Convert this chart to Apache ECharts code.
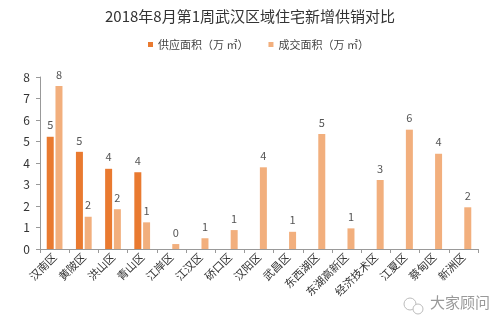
<!DOCTYPE html>
<html><head><meta charset="utf-8">
<script src="https://cdn.jsdelivr.net/npm/echarts@6/dist/echarts.min.js"></script>
<style>html,body{margin:0;padding:0;background:#fff}#c{width:500px;height:324px}</style>
</head><body><div id="c"></div>
<script>
const categories = ['汉南区','黄陂区','洪山区','青山区','江岸区','江汉区','硚口区','汉阳区','武昌区','东西湖区','东湖高新区','经济技术区','江夏区','蔡甸区','新洲区'];
const supply = [5.22, 4.52, 3.73, 3.57, null, null, null, null, null, null, null, null, null, null, null];
const deal = [7.58, 1.5, 1.85, 1.24, 0.23, 0.5, 0.88, 3.8, 0.8, 5.35, 0.96, 3.21, 5.55, 4.43, 1.94];
const yTicks = [0,1,2,3,4,5,6,7,8];
const seriesNames = ['供应面积（万 ㎡）','成交面积（万 ㎡）'];
const titleText = '2018年8月第1周武汉区域住宅新增供销对比';
const watermark = '大家顾问';

const font = '"Noto Sans CJK SC", "Noto Sans", sans-serif';
const chart = echarts.init(document.getElementById('c'));
const lbl = {show:true, position:'top', distance:6, color:'#555', fontSize:11, fontFamily:font,
  formatter: p => p.value == null ? '' : String(Math.round(p.value))};
chart.setOption({
  animation:false,
  textStyle:{fontFamily:font},
  title:{text:titleText, left:'center', top:4, textStyle:{fontSize:15, fontWeight:'normal', color:'#333', fontFamily:font}},
  legend:{top:34, left:143, itemWidth:5, itemHeight:5, itemGap:20, icon:'rect',
    textStyle:{fontSize:11, color:'#444', fontFamily:font}, data:seriesNames},
  grid:{left:40, right:22, top:77, bottom:75, containLabel:false},
  xAxis:{type:'category', data:categories,
    axisLine:{lineStyle:{color:'#999'}},
    axisTick:{show:true, length:4, lineStyle:{color:'#999'}},
    axisLabel:{rotate:45, fontSize:11, color:'#333', interval:0, margin:6, fontFamily:font}},
  yAxis:{type:'value', min:yTicks[0], max:yTicks[yTicks.length-1], interval:1,
    axisLine:{show:true, lineStyle:{color:'#999'}},
    axisTick:{show:true, length:4, lineStyle:{color:'#999'}},
    splitLine:{show:false},
    axisLabel:{fontSize:12, color:'#333', margin:10, fontFamily:font}},
  series:[
    {name:seriesNames[0], type:'bar', data:supply, barWidth:7, barGap:'25%', itemStyle:{color:'#E97A30'}, label:lbl},
    {name:seriesNames[1], type:'bar', data:deal, barWidth:7, itemStyle:{color:'#F2AF7D'}, label:lbl}
  ],
  graphic:[
    {type:'circle', shape:{cx:410, cy:304, r:6}, style:{fill:'none', stroke:'#bbb', lineWidth:1}},
    {type:'circle', shape:{cx:418, cy:309, r:5}, style:{fill:'#fff', stroke:'#bbb', lineWidth:1}},
    {type:'text', left:430, top:295, style:{text:watermark, fill:'#999', font:'15px '+font}}
  ]
});
</script></body></html>
